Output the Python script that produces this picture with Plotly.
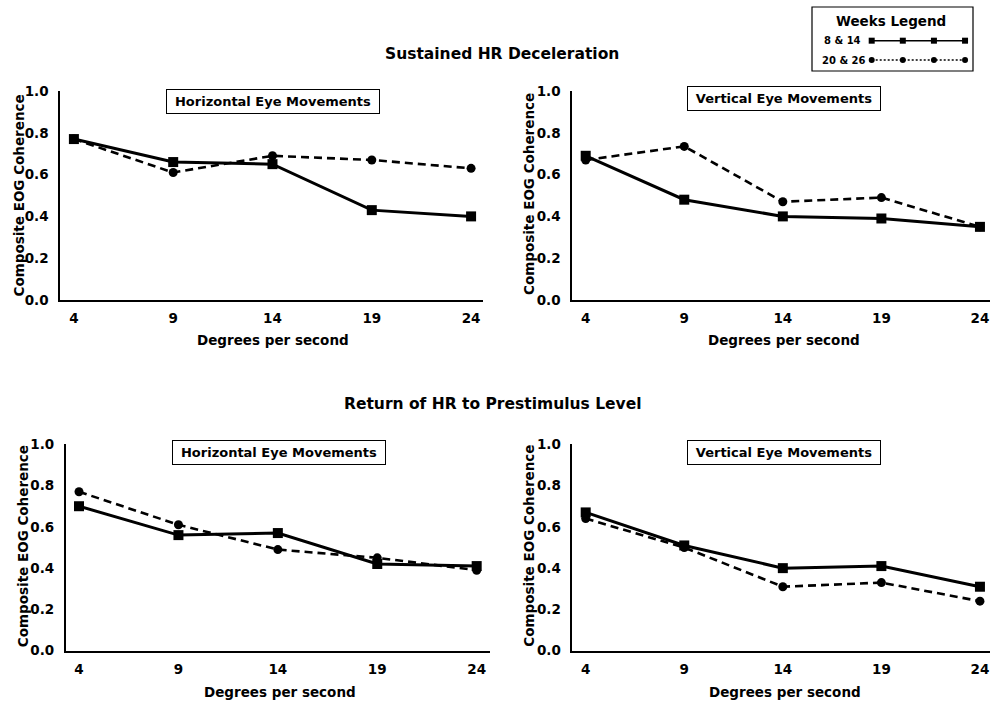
import plotly.graph_objects as go

# ---------------- data ----------------
degrees = [4, 9, 14, 19, 24]
tick_y = [0.0, 0.2, 0.4, 0.6, 0.8, 1.0]

sust_horiz_w8_14 = [0.77, 0.66, 0.65, 0.43, 0.40]
sust_horiz_w20_26 = [0.77, 0.61, 0.69, 0.67, 0.63]
sust_vert_w8_14 = [0.69, 0.48, 0.40, 0.39, 0.35]
sust_vert_w20_26 = [0.67, 0.735, 0.47, 0.49, 0.35]
ret_horiz_w8_14 = [0.70, 0.56, 0.57, 0.42, 0.41]
ret_horiz_w20_26 = [0.77, 0.61, 0.49, 0.45, 0.39]
ret_vert_w8_14 = [0.67, 0.51, 0.40, 0.41, 0.31]
ret_vert_w20_26 = [0.64, 0.50, 0.31, 0.33, 0.24]

legend_labels = ["8 & 14", "20 & 26"]
legend_key_x = [1, 2, 3, 4]

x_title = "Degrees per second"
y_title = "Composite EOG Coherence"

W, H = 990, 702
FONT = "DejaVu Sans"


def px(x):
    return x / W


def py(y):
    return 1 - y / H


fig = go.Figure()

panels = [
    ("x", "y", sust_horiz_w8_14, sust_horiz_w20_26),
    ("x2", "y2", sust_vert_w8_14, sust_vert_w20_26),
    ("x3", "y3", ret_horiz_w8_14, ret_horiz_w20_26),
    ("x4", "y4", ret_vert_w8_14, ret_vert_w20_26),
]

for xa, ya, solid, dashed in panels:
    fig.add_trace(go.Scatter(
        x=degrees, y=dashed, xaxis=xa, yaxis=ya, mode="lines+markers",
        line=dict(color="black", width=2.6, dash="8px,5px"),
        marker=dict(symbol="circle", size=9, color="black"),
        cliponaxis=False, showlegend=False))
    fig.add_trace(go.Scatter(
        x=degrees, y=solid, xaxis=xa, yaxis=ya, mode="lines+markers",
        line=dict(color="black", width=3),
        marker=dict(symbol="square", size=10, color="black"),
        cliponaxis=False, showlegend=False))

# legend key (mini axis)
fig.add_trace(go.Scatter(
    x=legend_key_x, y=[2] * len(legend_key_x), xaxis="x5", yaxis="y5",
    mode="lines+markers", line=dict(color="black", width=1.5),
    marker=dict(symbol="square", size=6, color="black"),
    cliponaxis=False, showlegend=False))
fig.add_trace(go.Scatter(
    x=legend_key_x, y=[1] * len(legend_key_x), xaxis="x5", yaxis="y5",
    mode="lines+markers", line=dict(color="black", width=1.3, dash="2px,2px"),
    marker=dict(symbol="circle", size=6, color="black"),
    cliponaxis=False, showlegend=False))

tickfont = dict(family=FONT, size=13.5, color="black", weight="bold")
titlefont = dict(family=FONT, size=13.5, color="black", weight="bold")


def xax(dom, rng, anchor):
    return dict(domain=dom, range=rng, anchor=anchor, tickvals=degrees,
                ticks="", showgrid=False, zeroline=False, showline=True,
                linecolor="black", linewidth=1.5, tickfont=tickfont,
                ticklabelstandoff=5, ticklabeloverflow="allow",
                automargin=False)


def yax(dom, anchor):
    return dict(domain=dom, range=[0, 1], anchor=anchor, tickvals=tick_y,
                tickformat=".1f", ticks="", showgrid=False, zeroline=False,
                showline=True, linecolor="black", linewidth=1.5,
                tickfont=tickfont, ticklabelstandoff=7,
                ticklabeloverflow="allow", automargin=False)


top_dom = [py(300), py(91)]
bot_dom = [py(650.7), py(444.3)]

fig.update_layout(
    width=W, height=H, margin=dict(l=0, r=0, t=0, b=0, autoexpand=False),
    paper_bgcolor="white", plot_bgcolor="white",
    font=dict(family=FONT, color="black"),
    xaxis=xax([px(60), px(483)], [3.3, 24.6], "y"),
    yaxis=yax(top_dom, "x"),
    xaxis2=xax([px(572), 1.0], [3.305, 24.51], "y2"),
    yaxis2=yax(top_dom, "x2"),
    xaxis3=xax([px(65.7), px(490)], [3.33, 24.67], "y3"),
    yaxis3=yax(bot_dom, "x3"),
    xaxis4=xax([px(572.3), 1.0], [3.32, 24.51], "y4"),
    yaxis4=yax(bot_dom, "x4"),
    xaxis5=dict(domain=[px(860), px(975)], range=[0.624, 4.32], anchor="y5",
                visible=False, fixedrange=True),
    yaxis5=dict(domain=[py(70), py(30)], range=[0.482, 2.554], anchor="x5",
                visible=False, fixedrange=True),
)

annos = []
# section titles
annos.append(dict(text="Sustained HR Deceleration", x=px(501.5), y=py(54),
                  font=dict(family=FONT, size=15.5, weight="bold")))
annos.append(dict(text="Return of HR to Prestimulus Level", x=px(492), y=py(404),
                  font=dict(family=FONT, size=15.5, weight="bold")))
# axis titles
for cx, cy in [(273, 340), (784, 340), (279.5, 692), (785, 692)]:
    annos.append(dict(text=x_title, x=px(cx), y=py(cy), font=dict(titlefont)))
for cx, cy in [(19, 195.5), (529, 194), (22.5, 546.7), (529, 545.7)]:
    annos.append(dict(text=y_title, x=px(cx), y=py(cy), textangle=-90,
                      font=dict(titlefont)))
# panel boxes
for txt, cx, cy in [("Horizontal Eye Movements", 273, 101),
                    ("Vertical Eye Movements", 784, 99),
                    ("Horizontal Eye Movements", 278.7, 452),
                    ("Vertical Eye Movements", 784, 452)]:
    w = 206 if txt.startswith("H") else 186
    annos.append(dict(text=txt, x=px(cx), y=py(cy), width=w, height=17,
                      bordercolor="black", borderwidth=1, borderpad=3,
                      bgcolor="white",
                      font=dict(family=FONT, size=13, weight="bold")))
# legend texts
annos.append(dict(text="Weeks Legend", x=px(891), y=py(21),
                  font=dict(family=FONT, size=13.5, weight="bold")))
annos.append(dict(text=legend_labels[0], x=px(822), y=py(41), xanchor="left",
                  font=dict(family=FONT, size=10, weight="bold")))
annos.append(dict(text=legend_labels[1], x=px(820), y=py(60), xanchor="left",
                  font=dict(family=FONT, size=10, weight="bold")))

for a in annos:
    a.setdefault("xref", "paper")
    a.setdefault("yref", "paper")
    a.setdefault("showarrow", False)
    a.setdefault("xanchor", "center")
    a.setdefault("yanchor", "middle")
    a["font"].setdefault("color", "black")
fig.update_layout(annotations=annos)

fig.add_shape(type="rect", xref="paper", yref="paper",
              x0=px(812), x1=px(973), y0=py(71), y1=py(7),
              line=dict(color="black", width=1.2), fillcolor="rgba(0,0,0,0)")

fig.write_html("out.html")
